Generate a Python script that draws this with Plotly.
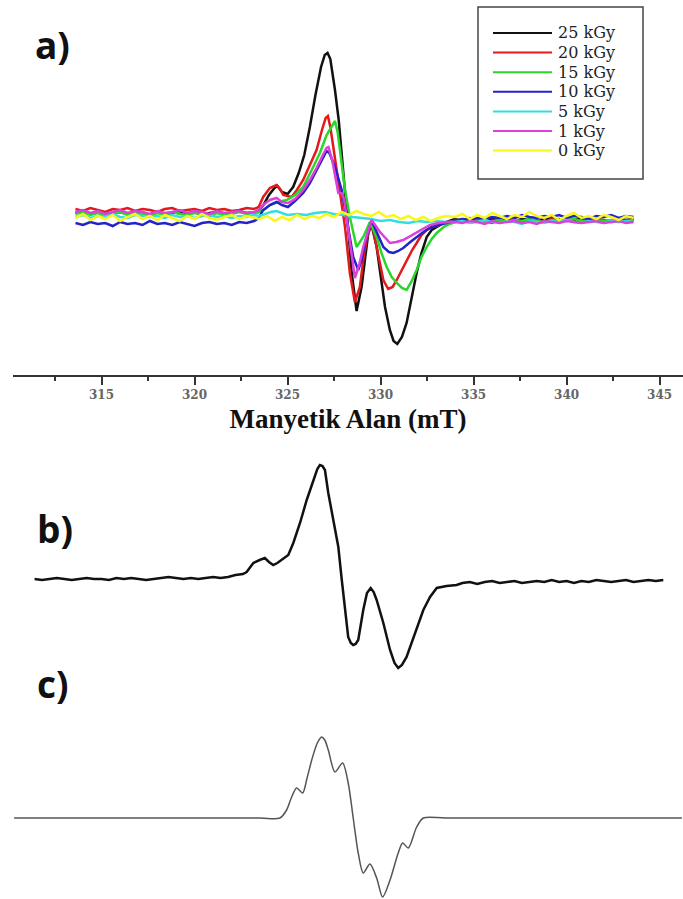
import plotly.graph_objects as go

W, H = 683, 899

# ---------------- Panel a data (field in mT, intensity in arbitrary units) ----------------
series_names = ["25 kGy", "20 kGy", "15 kGy", "10 kGy", "5 kGy", "1 kGy", "0 kGy"]
series_colors = ["#111111", "#e3191c", "#2bd62b", "#2323c8", "#33dede", "#dc3fdc", "#f7f71a"]

left_x = [313.6, 314.0, 314.4, 314.8, 315.2, 315.6, 316.0, 316.4, 316.8, 317.2, 317.6, 318.0, 318.4,
          318.8, 319.2, 319.6, 320.0, 320.4, 320.8, 321.2, 321.6, 322.0, 322.4, 322.8, 323.2]
right_x = [334.0, 334.4, 334.8, 335.2, 335.6, 336.0, 336.4, 336.8, 337.2, 337.6, 338.0, 338.4, 338.8,
           339.2, 339.6, 340.0, 340.4, 340.8, 341.2, 341.6, 342.0, 342.4, 342.8, 343.2, 343.6]

# 25 kGy
k25_left = [2, 4, 1, 3, 0, 2, 3, 1, 4, 2, 0, 3, 1, 2, 4, 1, 3, 0, 2, 3, 1, 2, 4, 2, 3]
k25_x = [323.4, 323.7, 324.0, 324.3, 324.45, 324.7, 325.0, 325.3, 325.6, 325.9, 326.2, 326.5, 326.8,
         327.0, 327.15, 327.3, 327.55, 327.75, 327.9, 328.05, 328.2, 328.45, 328.71, 328.98, 329.16,
         329.34, 329.52, 329.79, 330.0, 330.24, 330.5, 330.7, 330.9, 331.15, 331.4, 331.65, 331.94,
         332.2, 332.48, 332.75, 333.02, 333.4, 333.7]
k25_y = [3, 10, 20, 27, 29, 23, 21, 28, 42, 60, 88, 120, 148, 160, 162, 156, 125, 95, 65, 33, 0, -58,
         -96, -72, -42, -18, -10, -32, -60, -92, -115, -126, -129, -122, -108, -85, -58, -38, -22, -15,
         -12, -8, -6]
k25_right = [-4, -6, -3, -5, -7, -4, -5, -3, -6, -4, -5, -7, -3, -5, -4, -6, -5, -3, -6, -4, -5, -7, -4, -5, -4]

# 20 kGy
k20_left = [6, 4, 7, 5, 3, 6, 5, 7, 4, 6, 5, 3, 6, 7, 4, 5, 6, 4, 7, 5, 6, 4, 5, 7, 6]
k20_x = [323.45, 323.69, 324.05, 324.41, 324.6, 324.77, 325.0, 325.22, 325.5, 325.84, 326.2, 326.56,
         326.85, 327.05, 327.17, 327.3, 327.46, 327.65, 327.82, 328.09, 328.35, 328.62, 328.89, 329.07,
         329.25, 329.52, 329.79, 329.97, 330.15, 330.41, 330.65, 330.87, 331.15, 331.4, 331.7, 331.94,
         332.2, 332.48, 332.75, 333.02, 333.4, 333.7]
k20_y = [8, 18, 27, 30, 26, 20, 19, 18, 25, 35, 50, 65, 85, 97, 99, 88, 68, 45, 22, -12, -58, -87, -72,
         -45, -25, -7, -32, -50, -65, -74, -72, -65, -55, -45, -35, -28, -20, -15, -12, -11, -8, -7]
k20_right = [-6, -4, -7, -5, -6, -8, -5, -6, -4, -7, -6, -5, -7, -4, -6, -5, -7, -6, -4, -6, -5, -7, -5, -6, -5]

# 15 kGy
k15_left = [1, 3, 0, 2, -1, 1, 3, 0, 2, 1, -1, 2, 0, 3, 1, 0, 2, 1, -1, 2, 0, 1, 3, 1, 2]
k15_x = [323.5, 323.8, 324.05, 324.5, 324.95, 325.4, 325.84, 326.3, 326.74, 327.1, 327.4, 327.55, 327.7,
         327.82, 328.0, 328.09, 328.35, 328.71, 329.07, 329.43, 329.79, 330.05, 330.33, 330.6, 330.87,
         331.15, 331.4, 331.65, 331.94, 332.2, 332.48, 332.75, 333.02, 333.4, 333.7]
k15_y = [3, 6, 10, 13, 15, 20, 28, 45, 62, 80, 90, 94, 82, 65, 40, 25, -2, -32, -22, -7, -22, -38, -52,
         -62, -68, -73, -75, -67, -55, -42, -32, -24, -18, -12, -9]
k15_right = [-7, -5, -6, -4, -7, -6, -5, -7, -5, -6, -4, -6, -7, -5, -6, -5, -4, -6, -7, -5, -6, -5, -7, -6, -5]

# 10 kGy
k10_left = [-8, -10, -7, -9, -8, -11, -7, -9, -8, -10, -6, -9, -8, -10, -7, -9, -11, -8, -7, -9, -8, -10, -7, -8, -6]
k10_x = [323.45, 323.69, 324.05, 324.41, 324.7, 325.02, 325.4, 325.84, 326.2, 326.56, 326.9, 327.1,
         327.25, 327.55, 327.91, 328.1, 328.26, 328.53, 328.8, 328.98, 329.16, 329.52, 329.79, 330.15,
         330.45, 330.69, 330.95, 331.22, 331.6, 331.94, 332.3, 332.66, 333.1, 333.56]
k10_y = [-3, 5, 10, 13, 10, 8, 14, 22, 32, 45, 58, 64, 62, 48, 25, 5, -12, -42, -55, -45, -28, -5, -17,
         -32, -37, -38, -36, -33, -27, -22, -17, -13, -10, -8]
k10_right = [-6, -4, -5, -3, -4, -2, -3, -1, -3, 0, -2, -3, -1, -2, 0, -3, -1, -2, -4, -1, -2, 0, -3, -1, -2]

# 5 kGy
k5_left = [-2, 0, -3, -1, -2, 1, -2, -3, 0, -1, -2, -1, -3, 0, -2, -1, -3, -1, 0, -2, -1, -3, -1, -2, 0]
k5_x = [323.5, 323.8, 324.1, 324.4, 324.7, 325.0, 325.5, 326.0, 326.5, 327.0, 327.5, 328.0, 328.5, 329.0,
        329.5, 330.0, 330.5, 331.0, 331.5, 332.0, 332.5, 333.0, 333.5]
k5_y = [-1, 1, 3, 4, 2, 0, 1, 0, 2, 3, 1, 0, -2, -3, -4, -6, -5, -7, -8, -6, -7, -6, -7]
k5_right = [-7, -6, -8, -7, -5, -7, -8, -6, -7, -9, -6, -7, -8, -6, -7, -5, -7, -8, -6, -7, -8, -6, -7, -6, -7]

# 1 kGy
k1_left = [3, 5, 2, 4, 1, 3, 5, 2, 4, 3, 1, 4, 2, 3, 5, 2, 4, 3, 1, 4, 2, 3, 4, 2, 3]
k1_x = [323.45, 323.69, 324.05, 324.41, 324.7, 325.02, 325.4, 325.84, 326.2, 326.56, 326.9, 327.1, 327.2,
        327.4, 327.6, 327.73, 327.9, 328.05, 328.3, 328.62, 328.85, 329.07, 329.52, 329.97, 330.51, 330.85,
        331.22, 331.6, 331.94, 332.3, 332.66, 333.1, 333.56]
k1_y = [5, 10, 15, 17, 13, 12, 16, 25, 35, 47, 60, 67, 68, 55, 35, 22, 22, 15, -20, -63, -50, -32, -5,
        -17, -28, -27, -25, -21, -17, -13, -10, -8, -7]
k1_right = [-7, -8, -6, -7, -9, -6, -8, -7, -6, -8, -7, -9, -6, -7, -8, -6, -7, -8, -7, -6, -8, -7, -6, -8, -7]

# 0 kGy
k0_left = [-3, 1, -5, -1, -4, 0, -6, -2, 1, -4, -1, -5, 0, -3, -6, -1, -4, 1, -3, -5, -2, 0, -4, -1, -3]
k0_x = [323.5, 323.9, 324.3, 324.7, 325.1, 325.5, 325.9, 326.3, 326.7, 327.1, 327.5, 327.9, 328.3, 328.7,
        329.1, 329.5, 329.9, 330.3, 330.7, 331.1, 331.5, 331.9, 332.3, 332.7, 333.1, 333.5]
k0_y = [-4, -1, -6, -2, -5, 0, -4, -1, -3, 1, -2, 3, 0, 4, 1, -1, 3, -2, 0, -4, -1, -5, -2, -6, -3, -1]
k0_right = [-2, 1, -4, 0, -3, 2, -1, -4, 0, -2, 3, -1, -3, 0, -5, -1, 2, -3, -1, -4, 0, -2, -5, -1, -3]

series_left = [k25_left, k20_left, k15_left, k10_left, k5_left, k1_left, k0_left]
series_mid_x = [k25_x, k20_x, k15_x, k10_x, k5_x, k1_x, k0_x]
series_mid_y = [k25_y, k20_y, k15_y, k10_y, k5_y, k1_y, k0_y]
series_right = [k25_right, k20_right, k15_right, k10_right, k5_right, k1_right, k0_right]

tick_values = [315, 320, 325, 330, 335, 340, 345]
tick_labels = ["315", "320", "325", "330", "335", "340", "345"]
x_title = "Manyetik Alan (mT)"

# ---------------- Panel b data (experimental spectrum) ----------------
b_left_x = [311.4, 311.8, 312.2, 312.6, 313.0, 313.4, 313.8, 314.2, 314.6, 315.0, 315.4, 315.8, 316.2,
            316.6, 317.0, 317.4, 317.8, 318.2, 318.6, 319.0, 319.4, 319.8, 320.2, 320.6, 321.0, 321.4,
            321.8, 322.2, 322.6]
b_left_y = [0, -1, 0, 1, 0, -1, 0, 1, 0, 0, -1, 1, 0, 1, 0, -1, 0, 1, 2, 1, 0, 1, 0, 1, 2, 1, 2, 4, 5]
b_mid_x = [322.8, 323.16, 323.5, 323.78, 324.0, 324.23, 324.45, 324.68, 325.04, 325.31, 325.67, 326.03,
           326.38, 326.6, 326.74, 326.88, 327.01, 327.19, 327.46, 327.73, 327.91, 328.09, 328.26, 328.4,
           328.53, 328.66, 328.8, 329.07, 329.27, 329.47, 329.63, 329.79, 330.15, 330.51, 330.75, 330.95,
           331.15, 331.4, 331.94, 332.3, 332.66, 333.02, 333.55, 334.09]
b_mid_y = [7, 16, 19, 21, 17, 14, 16, 19, 24, 36, 56, 79, 99, 110, 114, 113, 109, 86, 59, 32, 0, -28, -58,
           -64, -66, -65, -61, -31, -14, -9, -13, -21, -44, -71, -84, -89, -86, -78, -51, -31, -18, -9, -7, -6]
b_right_x = [334.4, 334.8, 335.2, 335.6, 336.0, 336.4, 336.8, 337.2, 337.6, 338.0, 338.4, 338.8, 339.2,
             339.6, 340.0, 340.4, 340.8, 341.2, 341.6, 342.0, 342.4, 342.8, 343.2, 343.6, 344.0, 344.4,
             344.8, 345.2]
b_right_y = [-4, -3, -5, -3, -2, -4, -3, -2, -4, -3, -2, -3, -1, -3, -2, -4, -2, -3, -1, -2, -3, -2, -1,
             -3, -2, -1, -2, -1]

# ---------------- Panel c data (simulated spectrum) ----------------
c_x = [310.3, 318.0, 323.5, 324.59, 324.95, 325.2, 325.49, 325.81, 326.05, 326.3, 326.6, 326.83, 327.0,
       327.19, 327.55, 327.96, 328.26, 328.53, 328.8, 329.07, 329.43, 329.79, 330.11, 330.51, 330.95,
       331.19, 331.49, 331.94, 332.3, 333.5, 340.0, 346.2]
c_y = [0, 0, 0, 0, 8, 20, 30, 25, 40, 58, 75, 81, 78, 68, 46, 55, 35, 0, -35, -55, -46, -60, -79, -62,
       -35, -25, -30, -9, 0, 0, 0, 0]

panel_labels = ["a)", "b)", "c)"]

# ---------------- Figure ----------------
fig = go.Figure()

for name, color, lft, mx, my, rgt in zip(series_names, series_colors, series_left,
                                         series_mid_x, series_mid_y, series_right):
    fig.add_trace(go.Scatter(
        x=left_x + mx + right_x, y=lft + my + rgt, mode="lines", name=name,
        line=dict(color=color, width=2.5), xaxis="x", yaxis="y", showlegend=False))

fig.add_trace(go.Scatter(
    x=b_left_x + b_mid_x + b_right_x, y=b_left_y + b_mid_y + b_right_y, mode="lines",
    line=dict(color="#111111", width=2.5), showlegend=False, xaxis="x2", yaxis="y2"))

fig.add_trace(go.Scatter(
    x=c_x, y=c_y, mode="lines", line=dict(color="#555555", width=1.5, shape="spline", smoothing=0.8),
    showlegend=False, xaxis="x3", yaxis="y3"))


def px_x(px):
    return px / W


def py(px):
    return 1 - px / H


xdom = [13 / W, 1]
xrng = [310.24, 346.26]

fig.update_layout(
    width=W, height=H, autosize=False,
    margin=dict(l=0, r=0, t=0, b=0, pad=0),
    paper_bgcolor="white", plot_bgcolor="white",
    showlegend=False,
    xaxis=dict(domain=xdom, range=xrng, anchor="y", showgrid=False, zeroline=False,
               showline=True, linecolor="#333333", linewidth=2,
               ticks="outside", ticklen=8, tickwidth=2, tickcolor="#333333",
               tickvals=tick_values, ticktext=tick_labels,
               tickfont=dict(family="DejaVu Serif", size=12, color="#666666", weight="bold"),
               minor=dict(ticks="outside", ticklen=4, tickwidth=2, tickcolor="#333333",
                          dtick=2.5, tick0=315, showgrid=False),
               title=dict(text=x_title, standoff=8,
                          font=dict(family="Liberation Serif", size=27, color="#111111", weight="bold"))),
    yaxis=dict(domain=[py(375), 1], range=[-160, 215], visible=False),
    xaxis2=dict(domain=xdom, range=xrng, anchor="y2", visible=False),
    yaxis2=dict(domain=[py(680), py(450)], range=[-101, 129], visible=False),
    xaxis3=dict(domain=xdom, range=xrng, anchor="y3", visible=False),
    yaxis3=dict(domain=[0, py(700)], range=[-81, 118], visible=False),
)

# Legend box (drawn as a key panel in paper coordinates)
fig.add_shape(type="rect", xref="paper", yref="paper",
              x0=px_x(478), x1=px_x(643), y0=py(179), y1=py(7),
              line=dict(color="#444444", width=1.5), fillcolor="white", layer="above")
row0, row_step = 33, 19.6
for i, (name, color) in enumerate(zip(series_names, series_colors)):
    ry = row0 + i * row_step
    fig.add_shape(type="line", xref="paper", yref="paper",
                  x0=px_x(493), x1=px_x(552), y0=py(ry), y1=py(ry),
                  line=dict(color=color, width=2), layer="above")
    fig.add_annotation(text=name, x=px_x(556), y=py(ry), xref="paper", yref="paper",
                       xanchor="left", yanchor="middle", showarrow=False,
                       font=dict(family="DejaVu Serif", size=16, color="#222222"))

label_pos = [(33, 44), (35, 528), (35, 683)]
for txt, (lx, ly) in zip(panel_labels, label_pos):
    fig.add_annotation(text=txt, x=px_x(lx), y=py(ly), xref="paper", yref="paper",
                       xanchor="left", yanchor="middle", showarrow=False,
                       font=dict(family="Open Sans", size=37, color="#111111", weight="bold"))

fig.write_html("out.html", config={"displayModeBar": False},
               post_script="document.body.style.margin='0px';")
